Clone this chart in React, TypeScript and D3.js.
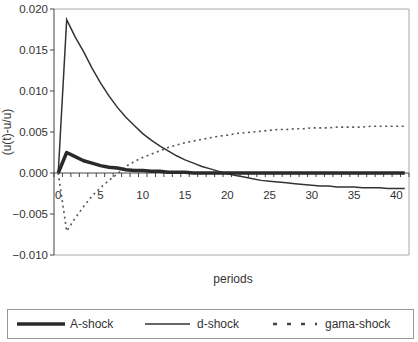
import React from 'react'
import * as d3 from 'd3'

// periods 0..41 on a category axis
const periods = d3.range(42)
const xTickLabels = [0, 5, 10, 15, 20, 25, 30, 35, 40]
const yTicks = [-0.01, -0.005, 0, 0.005, 0.01, 0.015, 0.02]

const aShock = [
  0, 0.0025, 0.002, 0.0015, 0.0012, 0.0009, 0.0007, 0.0006, 0.0004, 0.0003,
  0.0003, 0.0002, 0.0002, 0.0001, 0.0001, 0.0001, 0, 0, 0, 0,
  0, 0, 0, 0, 0, 0, 0, 0, 0, 0,
  0, 0, 0, 0, 0, 0, 0, 0, 0, 0,
  0, 0,
]
const dShock = [
  0, 0.0187, 0.0166, 0.0148, 0.0128, 0.011, 0.0094, 0.008, 0.0068, 0.0058,
  0.0048, 0.004, 0.0033, 0.0027, 0.0021, 0.0016, 0.0012, 0.0008, 0.0005, 0.0002,
  -0.0001, -0.0003, -0.0005, -0.0007, -0.0009, -0.001, -0.0011, -0.0012, -0.0013, -0.0014,
  -0.0015, -0.0016, -0.0016, -0.0017, -0.0017, -0.0017, -0.0018, -0.0018, -0.0018, -0.0019,
  -0.0019, -0.0019,
]
const gamaShock = [
  0, -0.0071, -0.0055, -0.0041, -0.0028, -0.0018, -0.0009, -0.0001, 0.0008, 0.0014,
  0.0019, 0.0023, 0.0027, 0.0031, 0.0034, 0.0037, 0.0039, 0.0041, 0.0043, 0.0045,
  0.0046, 0.0048, 0.0049, 0.005, 0.0051, 0.0052, 0.0053, 0.0053, 0.0054, 0.0054,
  0.0055, 0.0055, 0.0055, 0.0056, 0.0056, 0.0056, 0.0056, 0.0057, 0.0057, 0.0057,
  0.0057, 0.0057,
]

const font = '"Liberation Sans", Arial, sans-serif'

export default function App() {
  const W = 418, H = 342
  const left = 54, right = 409, top = 9, bottom = 255

  const x = d3.scaleBand<number>().domain(periods).range([left, right])
  const y = d3.scaleLinear().domain([-0.01, 0.02]).range([bottom, top])
  const cx = (i: number) => (x(i) as number) + x.bandwidth() / 2

  const line = d3.line<number>()
    .x((_, i) => cx(periods[i]))
    .y(d => y(d))

  const fmt = (v: number) => {
    const s = d3.format('.3f')(Math.abs(v))
    return v < 0 ? '\u2212' + s : s
  }

  const y0 = y(0)
  const edges = periods.map(p => x(p) as number).concat([right])

  return (
    <svg width={W} height={H} style={{ position: 'absolute', left: 0, top: 0, background: '#fff' }}>
      {/* plot frame */}
      <path d={`M${left},${top}H${right}V${bottom}H${left}`} fill="none" stroke="#a8a8a8" strokeWidth={1} />
      {/* y axis */}
      <line x1={left} x2={left} y1={top} y2={bottom} stroke="#444" strokeWidth={1} />
      {yTicks.map(t => (
        <g key={t}>
          <line x1={left - 4} x2={left} y1={y(t)} y2={y(t)} stroke="#444" />
          <text x={left - 6} y={y(t)} dy="0.35em" textAnchor="end" fontSize={11.5} fontFamily={font} fill="#333">
            {fmt(t)}
          </text>
        </g>
      ))}
      {/* x axis at zero */}
      <line x1={left} x2={right} y1={y0} y2={y0} stroke="#444" strokeWidth={1} />
      {edges.map((e, i) => (
        <line key={i} x1={e} x2={e} y1={y0} y2={y0 + 4} stroke="#444" />
      ))}
      {xTickLabels.map(t => (
        <text key={t} x={cx(t)} y={y0 + 26} textAnchor="middle" fontSize={11.5} fontFamily={font} fill="#333">
          {t}
        </text>
      ))}

      {/* series */}
      <path d={line(gamaShock) || ''} fill="none" stroke="#555" strokeWidth={1.6} strokeDasharray="2,3.5" />
      <path d={line(dShock) || ''} fill="none" stroke="#333" strokeWidth={1.5} />
      <path d={line(aShock) || ''} fill="none" stroke="#2a2a2a" strokeWidth={3.5} strokeLinejoin="round" />

      {/* axis titles */}
      <text transform={`translate(11,${(top + bottom) / 2}) rotate(-90)`} textAnchor="middle" fontSize={12} fontFamily={font} fill="#333">
        (u(t)-u/u)
      </text>
      <text x={233} y={283} textAnchor="middle" fontSize={12} fontFamily={font} fill="#333">periods</text>

      {/* legend */}
      <rect x={7.5} y={309.5} width={406} height={29} fill="none" stroke="#999" />
      <line x1={17} x2={65} y1={324} y2={324} stroke="#2a2a2a" strokeWidth={3.5} />
      <text x={70} y={324} dy="0.35em" fontSize={12} fontFamily={font} fill="#333">A-shock</text>
      <line x1={145} x2={190} y1={324} y2={324} stroke="#333" strokeWidth={1.3} />
      <text x={197} y={324} dy="0.35em" fontSize={12} fontFamily={font} fill="#333">d-shock</text>
      <line x1={273} x2={317} y1={324} y2={324} stroke="#444" strokeWidth={2.5} strokeDasharray="4,10" />
      <text x={325} y={324} dy="0.35em" fontSize={12} fontFamily={font} fill="#333">gama-shock</text>
    </svg>
  )
}
